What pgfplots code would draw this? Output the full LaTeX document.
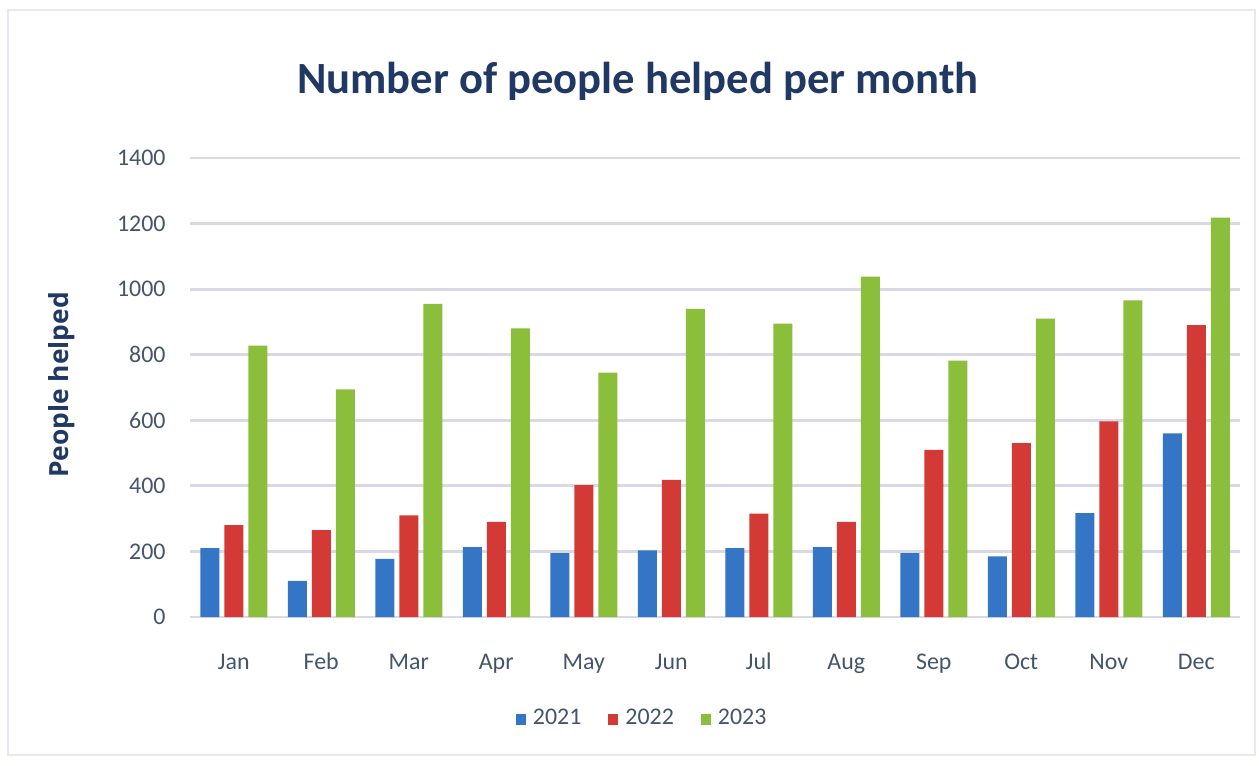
\documentclass[border=0pt]{standalone}
\usepackage{pgfplots}
\pgfplotsset{compat=1.18}
\usepackage{fontspec}
\setmainfont{Carlito}
\newfontfamily\labelfont{Open Sans}
\definecolor{cA}{HTML}{3476C5}
\definecolor{cB}{HTML}{D33A35}
\definecolor{cC}{HTML}{8BBE3A}
\definecolor{titlec}{HTML}{1F3864}
\definecolor{tickc}{HTML}{44546A}
\definecolor{gridc}{HTML}{D9D9E6}
\begin{document}
\begin{tikzpicture}
\path[use as bounding box] (-19mm,-14.8mm) rectangle (106.9mm,61.7mm);
\draw[color=gridc!60, line width=0.4pt] (-18.2mm,-13.8mm) rectangle (106.5mm,60.7mm);
\begin{axis}[
  width=105mm, height=45.9mm, scale only axis,
  xmin=-0.5, xmax=11.5, ymin=0, ymax=1400,
  ytick={0,200,...,1400},
  xtick={0,...,11},
  xticklabels={Jan,Feb,Mar,Apr,May,Jun,Jul,Aug,Sep,Oct,Nov,Dec},
  ybar, bar width=1.9mm,
  axis line style={draw=none},
  ymajorgrids, grid style={color=gridc, line width=0.8pt},
  major tick length=0,
  tick label style={font=\fontsize{6.8}{8}\selectfont, color=tickc},
  /pgf/number format/assume math mode=true,
  /pgf/number format/1000 sep={},
  yticklabel style={xshift=-1.2mm},
  xticklabel style={yshift=-1.3mm, text height=1.6ex, text depth=0.4ex},
  legend style={at={(0.433,-0.224)}, anchor=center, draw=none, fill=none,
    legend columns=3, font=\fontsize{6.8}{8}\selectfont, text=tickc,
    /tikz/every even column/.append style={column sep=2mm}},
  legend image code/.code={\fill[#1] (0mm,-0.5mm) rectangle (1mm,0.6mm);},
]
\addplot[fill=cA, draw=none, bar shift=-2.4mm] coordinates {
(0,210) (1,110) (2,177) (3,213) (4,195) (5,203) (6,210) (7,213) (8,195) (9,185) (10,317) (11,560)};
\addplot[fill=cB, draw=none, bar shift=0mm] coordinates {
(0,280) (1,265) (2,310) (3,290) (4,402) (5,418) (6,315) (7,290) (8,510) (9,530) (10,597) (11,890)};
\addplot[fill=cC, draw=none, bar shift=2.4mm] coordinates {
(0,828) (1,694) (2,955) (3,880) (4,745) (5,940) (6,895) (7,1038) (8,782) (9,910) (10,966) (11,1218)};
\legend{2021,2022,2023}
\end{axis}
\node[font=\bfseries\fontsize{12.7}{15}\selectfont, text=titlec] at (63.8mm,53.6mm) [xshift=-19mm] {Number of people helped per month};
\node[font=\labelfont\bfseries\fontsize{7.5}{9}\selectfont, text=titlec, rotate=90] at (-12.8mm,23.2mm) {People helped};
\end{tikzpicture}
\end{document}
